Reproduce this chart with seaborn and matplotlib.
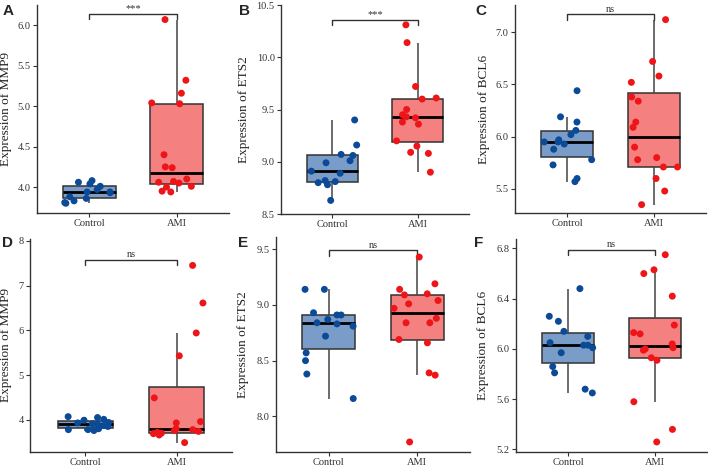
import numpy as np
import pandas as pd
import matplotlib
matplotlib.use('Agg')
import matplotlib.pyplot as plt
import seaborn as sns

# expression values
groups = ['Control', 'AMI']

mmp9_a_ctrl = [4.08, 4.01, 4.06, 4.04, 3.94, 3.93, 3.88, 3.83, 3.80, 3.86, 3.81, 3.94, 3.97]
mmp9_a_ami = [6.07, 5.32, 5.16, 5.04, 5.03, 4.40, 4.24, 4.25, 4.10, 4.07, 4.06, 4.05, 4.01, 4.00, 3.95, 3.94]

ets2_b_ctrl = [9.40, 9.16, 9.07, 9.06, 9.01, 8.99, 8.91, 8.89, 8.81, 8.82, 8.80, 8.78, 8.63]
ets2_b_ami = [10.31, 10.14, 9.72, 9.61, 9.60, 9.50, 9.43, 9.42, 9.45, 9.38, 9.36, 9.20, 9.15, 9.09, 9.08, 8.90]

bcl6_c_ctrl = [6.44, 6.14, 6.19, 6.06, 5.97, 6.02, 5.95, 5.93, 5.95, 5.88, 5.78, 5.73, 5.60, 5.57]
bcl6_c_ami = [7.12, 6.72, 6.58, 6.52, 6.38, 6.34, 6.14, 6.09, 5.90, 5.80, 5.78, 5.71, 5.71, 5.60, 5.48, 5.35]

mmp9_d_ctrl = [3.94, 4.01, 4.05, 3.99, 3.87, 3.80, 3.76, 3.85, 3.91, 3.93, 3.78, 3.78, 4.07, 3.90]
mmp9_d_ami = [7.45, 6.61, 5.94, 5.43, 4.49, 3.93, 3.96, 3.78, 3.80, 3.76, 3.70, 3.66, 3.69, 3.74, 3.49, 3.72]

ets2_e_ctrl = [9.14, 9.14, 8.93, 8.91, 8.91, 8.87, 8.84, 8.83, 8.81, 8.72, 8.57, 8.50, 8.38, 8.16]
ets2_e_ami = [9.43, 9.19, 9.14, 9.09, 9.10, 9.04, 9.01, 8.97, 8.88, 8.84, 8.84, 8.69, 8.66, 8.37, 8.39, 7.77]

bcl6_f_ctrl = [6.48, 6.26, 6.22, 6.14, 6.10, 6.05, 6.03, 6.03, 6.01, 5.97, 5.86, 5.81, 5.68, 5.65]
bcl6_f_ami = [6.75, 6.63, 6.60, 6.42, 6.19, 6.13, 6.12, 6.04, 6.01, 6.00, 5.99, 5.93, 5.91, 5.58, 5.36, 5.26]

panel_letters = ['A', 'B', 'C', 'D', 'E', 'F']
genes = ['MMP9', 'ETS2', 'BCL6', 'MMP9', 'ETS2', 'BCL6']
signif = ['***', '***', 'ns', 'ns', 'ns', 'ns']
ctrl_sets = [mmp9_a_ctrl, ets2_b_ctrl, bcl6_c_ctrl, mmp9_d_ctrl, ets2_e_ctrl, bcl6_f_ctrl]
ami_sets = [mmp9_a_ami, ets2_b_ami, bcl6_c_ami, mmp9_d_ami, ets2_e_ami, bcl6_f_ami]

# layout (pixels from top-left) and axis ranges
W, H = 708, 468
boxes = [(37, 5, 192, 208), (281, 5, 188, 209), (515, 5, 191, 208),
         (30, 239, 202, 213), (276, 237, 194, 215), (516, 239, 191, 213)]
label_x = [12, 250, 490, 12, 249, 489]   # right edge of the rotated y label
letter_xy = [(3, 4), (239, 4), (475, 4), (2, 236), (238, 236), (474, 236)]
ylims = [(3.68, 6.25), (8.5, 10.5), (5.27, 7.26), (3.28, 8.04), (7.68, 9.61), (5.18, 6.875)]
yticks = [np.arange(4.0, 6.01, 0.5), np.arange(8.5, 10.51, 0.5), np.arange(5.5, 7.01, 0.5),
          np.arange(4, 8.1, 1), np.arange(8.0, 9.51, 0.5), np.arange(5.2, 6.81, 0.4)]
tickfmt = ['%.1f', '%.1f', '%.1f', '%d', '%.1f', '%.1f']
bracket_y = [6.14, 10.36, 7.17, 7.58, 9.49, 6.79]

box_colors = {'Control': '#7A9CC8', 'AMI': '#F58080'}
dot_colors = {'Control': '#0B4A96', 'AMI': '#EE1518'}

sns.set_style('white')
plt.rcParams['font.family'] = ['Liberation Serif', 'DejaVu Serif']

fig = plt.figure(figsize=(W / 100, H / 100), dpi=100)
np.random.seed(3)

for i in range(6):
    x0, y0, w, h = boxes[i]
    ax = fig.add_axes([x0 / W, 1 - (y0 + h) / H, w / W, h / H])
    df = pd.DataFrame({
        'group': ['Control'] * len(ctrl_sets[i]) + ['AMI'] * len(ami_sets[i]),
        'value': ctrl_sets[i] + ami_sets[i],
    })
    sns.boxplot(data=df, x='group', y='value', hue='group', order=groups,
                palette=box_colors, saturation=1, width=0.6, showfliers=False,
                showcaps=False, linewidth=1.1, linecolor='#333333',
                medianprops=dict(color='black', linewidth=2),
                whiskerprops=dict(color='#444444', linewidth=1.1),
                legend=False, ax=ax)
    sns.stripplot(data=df, x='group', y='value', hue='group', order=groups,
                  palette=dot_colors, jitter=0.3, size=5, linewidth=0,
                  legend=False, ax=ax, zorder=5)

    # significance bracket
    yb = bracket_y[i]
    tick = (ylims[i][1] - ylims[i][0]) * 0.025
    ax.plot([0, 0, 1, 1], [yb - tick, yb, yb, yb - tick], color='#333333', lw=1.0,
            clip_on=False)
    ax.text(0.5, yb + tick * 0.1, signif[i], ha='center', va='bottom',
            fontsize=7.5, color='#333333')

    ax.set_xlim(-0.6, 1.6)
    ax.set_ylim(*ylims[i])
    ax.set_yticks(yticks[i])
    ax.set_yticklabels([tickfmt[i] % v for v in yticks[i]])
    ax.set_xlabel('')
    ax.set_ylabel('Expression of ' + genes[i], fontsize=9.5, color='#222222')
    ax.yaxis.set_label_coords((label_x[i] - x0) / w, 0.5)
    ax.tick_params(axis='both', labelsize=7.5, colors='#333333', length=3,
                   width=0.8, direction='out', left=True, bottom=True, pad=1.5)
    for s in ['top', 'right']:
        ax.spines[s].set_visible(False)
    for s in ['left', 'bottom']:
        ax.spines[s].set_color('#333333')
        ax.spines[s].set_linewidth(1.0)

    lx, ly = letter_xy[i]
    fig.text(lx / W, 1 - ly / H, panel_letters[i], ha='left', va='top',
             fontsize=11, fontweight='bold', family='Liberation Sans')

fig.savefig('out.png', dpi=100)
